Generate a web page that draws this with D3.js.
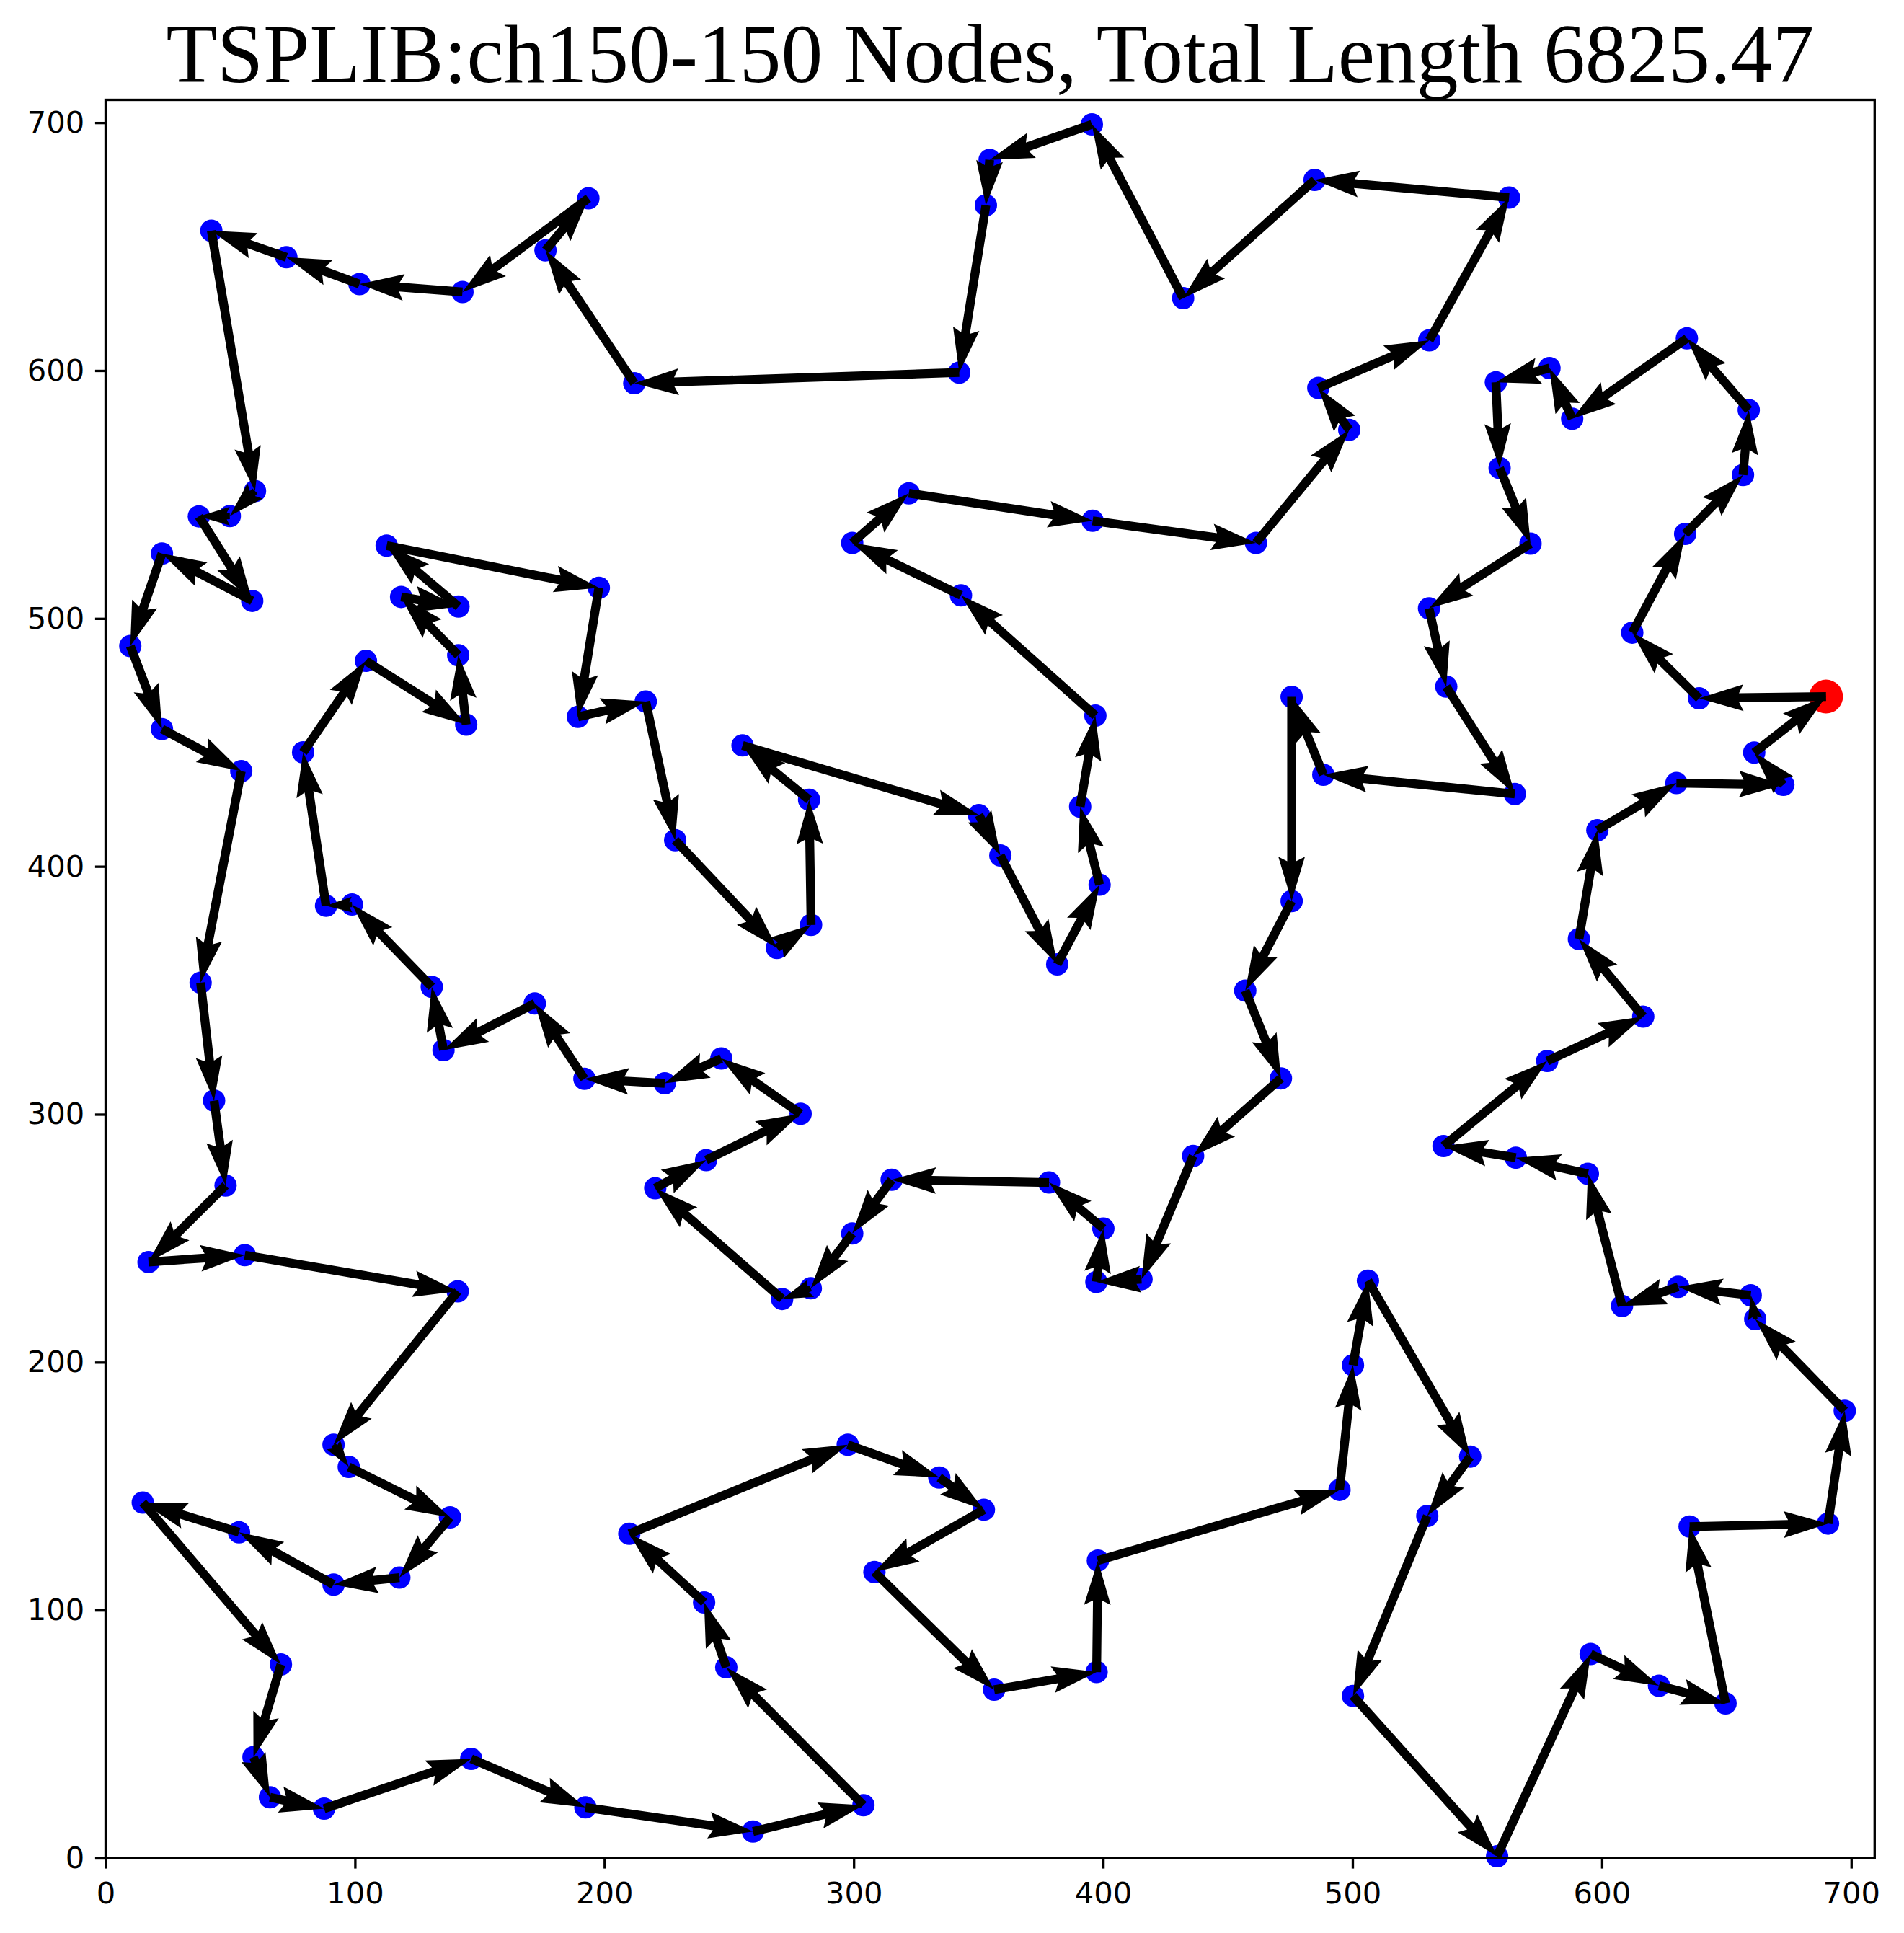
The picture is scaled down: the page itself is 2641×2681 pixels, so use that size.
<!DOCTYPE html>
<html>
<head>
<meta charset="utf-8">
<script src="https://cdn.jsdelivr.net/npm/d3@7"></script>
<style>
  html, body { margin: 0; padding: 0; background: #ffffff; }
  svg { display: block; }
</style>
</head>
<body>
<div id="chart"></div>
<script>

// Title
const chartTitle = "TSPLIB:ch150-150 Nodes, Total Length 6825.47";

// Tour in visiting order, the first node is the start (drawn red)
const tourX = [
    689.9, 639.0, 612.2, 633.4, 656.6, 658.9, 634.1, 588.1, 579.0, 557.5,
    559.0, 571.4, 530.7, 537.6, 565.1, 488.3, 475.6, 475.6, 457.0, 471.3,
    436.1, 415.4, 397.3, 400.1, 378.3, 315.2, 299.4, 282.8, 271.3, 220.4,
    240.8, 278.7, 246.9, 224.2, 192.0, 172.1, 135.5, 130.8, 98.8, 88.4,
    79.2, 104.4, 144.6, 141.4, 118.5, 141.5, 112.7, 197.8, 189.4, 216.6,
    228.4, 269.2, 282.9, 282.1, 255.4, 350.2, 358.8, 381.6, 398.6, 390.8,
    396.9, 343.0, 299.4, 322.1, 395.8, 461.3, 498.7, 486.3, 530.8, 562.8,
    484.8, 432.1, 395.5, 354.5, 353.0, 342.3, 212.0, 176.4, 193.6, 143.1,
    101.8, 72.5, 42.4, 59.9, 49.8, 37.4, 58.8, 22.6, 9.9, 22.6,
    54.4, 38.1, 43.5, 48.1, 17.2, 55.8, 141.2, 91.4, 97.5, 138.1,
    117.8, 91.4, 53.5, 14.9, 70.3, 59.3, 65.9, 87.6, 146.6, 192.4,
    259.6, 303.9, 248.9, 240.0, 210.0, 297.6, 334.3, 352.2, 308.3, 356.3,
    397.4, 397.9, 494.8, 500.2, 506.2, 547.2, 530.0, 500.2, 558.0, 595.5,
    622.9, 649.6, 635.2, 690.7, 697.4, 661.5, 659.7, 630.6, 608.1, 594.4,
    565.5, 536.5, 578.1, 616.6, 590.8, 598.2, 629.9, 672.8, 661.1
];
const tourY = [
    468.5, 467.8, 494.3, 534.1, 557.9, 584.1, 613.0, 580.6, 601.0, 595.3,
    560.7, 530.2, 504.1, 472.5, 429.2, 437.0, 468.4, 386.0, 349.9, 314.5,
    283.2, 233.5, 232.4, 253.9, 272.5, 273.6, 251.9, 229.8, 225.5, 270.2,
    281.5, 300.2, 322.5, 312.5, 314.3, 344.7, 325.9, 351.4, 384.6, 384.1,
    446.0, 482.9, 457.2, 485.2, 508.7, 504.8, 529.4, 512.4, 460.3, 466.5,
    410.6, 367.1, 376.4, 426.9, 448.8, 420.7, 404.4, 360.5, 392.6, 424.1,
    460.8, 509.3, 530.5, 550.5, 539.4, 530.5, 576.1, 593.0, 612.2, 669.8,
    676.9, 629.2, 699.3, 685.0, 666.7, 599.2, 594.9, 648.5, 669.5, 631.7,
    634.9, 645.7, 656.4, 551.4, 541.3, 541.2, 507.1, 526.2, 488.9, 455.4,
    438.4, 353.1, 305.5, 271.3, 240.4, 243.2, 228.6, 166.7, 157.8, 137.4,
    113.1, 110.3, 131.4, 143.4, 78.1, 40.7, 24.5, 19.9, 40.0, 20.4,
    10.7, 21.3, 76.9, 103.1, 130.8, 166.7, 153.5, 140.5, 115.4, 67.9,
    75.0, 120.0, 148.5, 198.8, 232.9, 161.9, 138.0, 65.4, 0.7, 82.3,
    69.5, 62.4, 133.7, 134.9, 180.4, 217.4, 227.0, 230.4, 222.7, 276.0,
    282.5, 287.2, 321.5, 339.4, 370.7, 414.6, 433.6, 432.9, 445.9
];

// Axis ticks
const xTicks = [0, 100, 200, 300, 400, 500, 600, 700];
const yTicks = [0, 100, 200, 300, 400, 500, 600, 700];
const xLimits = [0, 709.4];
const yLimits = [0, 709.2];

// Configs
const configs = {
    width: 2641,
    height: 2681,
    plot: { left: 146.5, right: 2600.3, top: 138.5, bottom: 2577 },
    spine: 3.33,
    tick_len: 14.6,
    tick_pad: 14.6,
    tick_font: 41.7,
    title_width: 2286,
    title_base: 113.5,
    dot_r: 15.5,
    start_r: 23.5,
    // quiver defaults, in shaft widths
    shaft: 12.3,
    head_length: 5,
    head_axis_length: 4.5,
    head_width: 3,
    min_shaft: 1
};

const P = configs.plot;

const svg = d3.select('#chart').append('svg')
    .attr('width', configs.width)
    .attr('height', configs.height)
    .attr('viewBox', `0 0 ${configs.width} ${configs.height}`);

svg.append('rect')
    .attr('width', configs.width)
    .attr('height', configs.height)
    .attr('fill', '#ffffff');

// Scales
const xScale = d3.scaleLinear().domain(xLimits).range([P.left, P.right]);
const yScale = d3.scaleLinear().domain(yLimits).range([P.bottom, P.top]);

// Nodes as pixel points
const nodes = tourX.map((x, i) => ({ px: xScale(x), py: yScale(tourY[i]) }));

// Dots
svg.append('g')
    .selectAll('circle')
    .data(nodes.slice(1))
    .join('circle')
    .attr('cx', d => d.px)
    .attr('cy', d => d.py)
    .attr('r', configs.dot_r)
    .attr('fill', '#0000ff');

svg.append('circle')
    .attr('cx', nodes[0].px)
    .attr('cy', nodes[0].py)
    .attr('r', configs.start_r)
    .attr('fill', '#ff0000');

// Quiver-like arrow polygon from a to b
function arrowPolygon(a, b) {
    const w = configs.shaft;
    const dx = b.px - a.px, dy = b.py - a.py;
    const len = Math.hypot(dx, dy);
    const L = len / w;
    const hl = configs.head_length, hal = configs.head_axis_length, hw = configs.head_width;
    const minsh = configs.min_shaft * hl;

    let xs = [0, L - hal, L - hl, L, L - hl, L - hal, 0];
    let ys = [0.5, 0.5, hw / 2, 0, -hw / 2, -0.5, -0.5];

    // Short arrows shrink uniformly
    if (L < minsh) {
        const s = L / minsh;
        xs = [0, minsh - hal, minsh - hl, minsh, minsh - hl, minsh - hal, 0].map(v => v * s);
        ys = ys.map(v => v * s);
    }

    const c = dx / len, s = dy / len;
    return xs.map((x, i) => [
        a.px + w * (x * c - ys[i] * s),
        a.py + w * (x * s + ys[i] * c)
    ]);
}

const edges = nodes.map((d, i) => [d, nodes[(i + 1) % nodes.length]]);
const polyLine = d3.line().curve(d3.curveLinearClosed);

svg.append('g')
    .selectAll('path')
    .data(edges)
    .join('path')
    .attr('d', e => polyLine(arrowPolygon(e[0], e[1])))
    .attr('fill', '#000000')
    .attr('stroke', 'none');

// Axes
const xAxis = d3.axisBottom(xScale)
    .tickValues(xTicks)
    .tickSize(configs.tick_len)
    .tickSizeOuter(0)
    .tickPadding(configs.tick_pad);

const yAxis = d3.axisLeft(yScale)
    .tickValues(yTicks)
    .tickSize(configs.tick_len)
    .tickSizeOuter(0)
    .tickPadding(configs.tick_pad);

const gx = svg.append('g')
    .attr('transform', `translate(0,${P.bottom})`)
    .call(xAxis);

const gy = svg.append('g')
    .attr('transform', `translate(${P.left},0)`)
    .call(yAxis);

[gx, gy].forEach(g => {
    g.select('.domain').remove();
    g.selectAll('.tick line')
        .attr('stroke', '#000000')
        .attr('stroke-width', configs.spine);
    g.selectAll('.tick text')
        .attr('fill', '#000000')
        .style('font-family', '"DejaVu Sans", sans-serif')
        .style('font-size', configs.tick_font + 'px');
});
gx.selectAll('.tick text').attr('dy', '0.8em');

// Frame
svg.append('rect')
    .attr('x', P.left)
    .attr('y', P.top)
    .attr('width', P.right - P.left)
    .attr('height', P.bottom - P.top)
    .attr('fill', 'none')
    .attr('stroke', '#000000')
    .attr('stroke-width', configs.spine);

// Title, sized to the measured width
const title = svg.append('text')
    .attr('x', (P.left + P.right) / 2)
    .attr('y', configs.title_base)
    .attr('text-anchor', 'middle')
    .style('font-family', '"Liberation Serif", "Times New Roman", serif')
    .style('font-size', '100px')
    .attr('fill', '#000000')
    .text(chartTitle);

const tw = title.node().getComputedTextLength();
title.style('font-size', (100 * configs.title_width / tw).toFixed(2) + 'px');

</script>
</body>
</html>
